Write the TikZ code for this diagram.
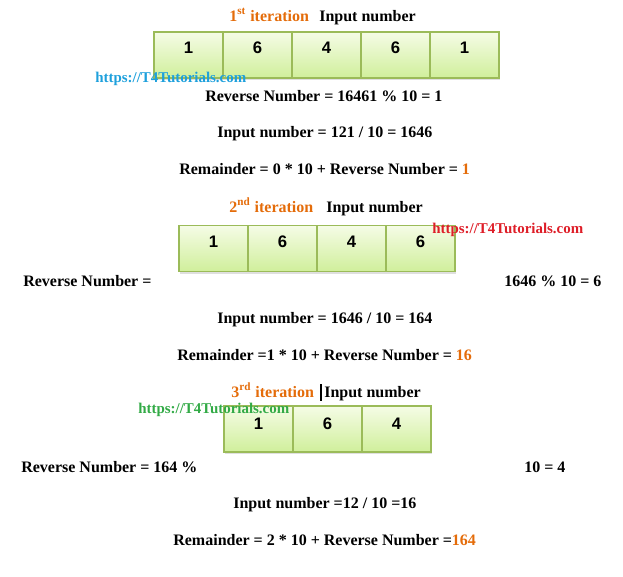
\documentclass[tikz,border=0pt]{standalone}
\usepackage{fontspec}
\setmainfont{Liberation Serif}
\newfontfamily\digitfont{Liberation Sans}
\usetikzlibrary{shadows}

\definecolor{iterorange}{RGB}{228,108,10}
\definecolor{urlblue}{RGB}{30,160,220}
\definecolor{urlred}{RGB}{222,30,40}
\definecolor{urlgreen}{RGB}{50,170,70}
\definecolor{cellborder}{RGB}{155,187,89}
\definecolor{celltop}{RGB}{245,252,230}
\definecolor{cellbottom}{RGB}{208,239,155}

\tikzset{
    cell/.style={draw=cellborder, line width=0.6pt, top color=celltop, bottom color=cellbottom,
        minimum width=1.38cm, minimum height=0.92cm, inner sep=0pt,
        drop shadow={opacity=0.25, shadow xshift=0.6pt, shadow yshift=-1.2pt}},
    digit/.style={font=\digitfont\bfseries\fontsize{9.5}{11}\selectfont, inner sep=0pt},
    txt/.style={font=\bfseries\fontsize{9.1}{11}\selectfont, inner sep=0pt, anchor=base west},
    iter/.style={txt, text=iterorange},
    url/.style={font=\bfseries\fontsize{8.5}{10}\selectfont, inner sep=0pt, anchor=base west}
}

\begin{document}
\begin{tikzpicture}[x=0.02cm, y=-0.02cm]
    \useasboundingbox (0,0) rectangle (623,576);

    % 1st iteration
    \begin{scope}
        \node[iter] (iter1) at (229,21) {1\textsuperscript{st} iteration};
        \node[txt] (in1) at (319,21) {Input number};
        \foreach \d [count=\i] in {1,6,4,6,1} {
            \node[cell] (r1c\i) at ({154+34.5+69*(\i-1)}, 55) {};
            \node[digit] (r1d\i) at ([yshift=0.14cm]r1c\i.center) {\d};
        }
        \node[url, text=urlblue] (url1) at (95,82) {https://T4Tutorials.com};
        \node[txt] (rev1) at (205,101) {Reverse Number = 16461 \% 10 = 1};
        \node[txt] (inp1) at (217,137) {Input number = 121 / 10 = 1646};
        \node[txt] (rem1) at (179,174) {Remainder = 0 * 10 + Reverse Number = {\color{iterorange}1}};
    \end{scope}

    % 2nd iteration
    \begin{scope}
        \node[iter] (iter2) at (229,212) {2\textsuperscript{nd} iteration};
        \node[txt] (in2) at (326,212) {Input number};
        \foreach \d [count=\i] in {1,6,4,6} {
            \node[cell] (r2c\i) at ({179+34.5+69*(\i-1)}, 248.5) {};
            \node[digit] (r2d\i) at ([yshift=0.13cm]r2c\i.center) {\d};
        }
        \node[url, text=urlred] (url2) at (432,233) {https://T4Tutorials.com};
        \node[txt] (rev2) at (23,286) {Reverse Number =};
        \node[txt] (val2) at (504,286) {1646 \% 10 = 6};
        \node[txt] (inp2) at (217,323) {Input number = 1646 / 10 = 164};
        \node[txt] (rem2) at (177,360) {Remainder =1 * 10 + Reverse Number = {\color{iterorange}16}};
    \end{scope}

    % 3rd iteration
    \begin{scope}
        \node[iter] (iter3) at (231,397) {3\textsuperscript{rd} iteration};
        \draw[line width=1.1pt] (321,384) -- (321,401);
        \node[txt] (in3) at (324,397) {Input number};
        \foreach \d [count=\i] in {1,6,4} {
            \node[cell] (r3c\i) at ({224+34.5+69*(\i-1)}, 429) {};
            \node[digit] (r3d\i) at ([yshift=0.1cm]r3c\i.center) {\d};
        }
        \node[url, text=urlgreen] (url3) at (138,413) {https://T4Tutorials.com};
        \node[txt] (rev3) at (21,472) {Reverse Number = 164 \%};
        \node[txt] (val3) at (524,472) {10 = 4};
        \node[txt] (inp3) at (233,508) {Input number =12 / 10 =16};
        \node[txt] (rem3) at (173,545) {Remainder = 2 * 10 + Reverse Number ={\color{iterorange}164}};
    \end{scope}
\end{tikzpicture}
\end{document}
